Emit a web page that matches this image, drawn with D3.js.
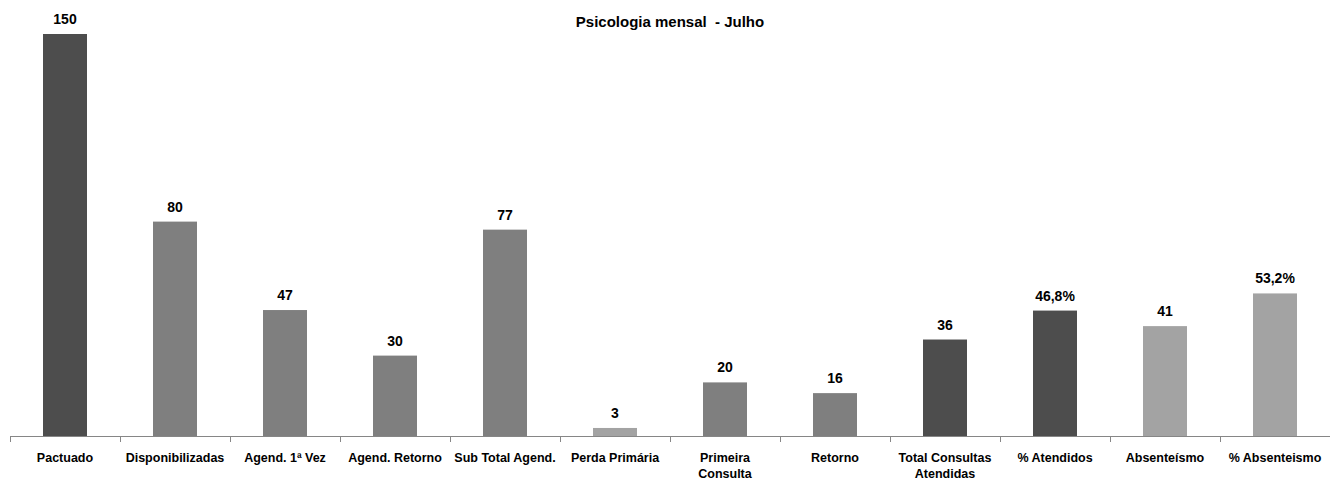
<!DOCTYPE html>
<html>
<head>
<meta charset="utf-8">
<script src="https://cdn.jsdelivr.net/npm/d3@7"></script>
<style>
  html, body { margin: 0; padding: 0; background: #fff; }
  svg { display: block; }
  text { font-family: "Liberation Sans", Arial, sans-serif; font-weight: bold; fill: #000; }
</style>
</head>
<body>
<svg id="chart" width="1330" height="481"></svg>
<script>
const categories = ["Pactuado", "Disponibilizadas", "Agend. 1ª Vez", "Agend. Retorno", "Sub Total Agend.", "Perda Primária", "Primeira Consulta", "Retorno", "Total Consultas Atendidas", "% Atendidos", "Absenteísmo", "% Absenteismo"];
const values = [150, 80, 47, 30, 77, 3, 20, 16, 36, 46.8, 41, 53.2];
const valueLabels = ["150", "80", "47", "30", "77", "3", "20", "16", "36", "46,8%", "41", "53,2%"];
const categoryLines = [["Pactuado"], ["Disponibilizadas"], ["Agend. 1ª Vez"], ["Agend. Retorno"], ["Sub Total Agend."], ["Perda Primária"], ["Primeira", "Consulta"], ["Retorno"], ["Total Consultas", "Atendidas"], ["% Atendidos"], ["Absenteísmo"], ["% Absenteismo"]];
const shades = ["dark", "mid", "mid", "mid", "mid", "light", "mid", "mid", "dark", "dark", "light", "light"];
const title = "Psicologia mensal  - Julho";

const colorOf = { dark: "#4d4d4d", mid: "#7f7f7f", light: "#a3a3a3" };

const svg = d3.select("#chart");
const x = d3.scaleBand().domain(categories).range([10, 1330]).paddingInner(0.6).paddingOuter(0.3);
const y = d3.scaleLinear().domain([0, 150]).range([436, 34]);

const data = categories.map((c, i) => ({ c, v: values[i], lab: valueLabels[i], lines: categoryLines[i], shade: shades[i] }));

svg.append("text")
  .attr("x", 670).attr("y", 27)
  .attr("text-anchor", "middle")
  .style("font-size", "15px")
  .style("white-space", "pre")
  .text(title);

svg.selectAll("rect.bar").data(data).join("rect")
  .attr("class", "bar")
  .attr("x", d => x(d.c))
  .attr("width", x.bandwidth())
  .attr("y", d => y(d.v))
  .attr("height", d => y(0) - y(d.v))
  .attr("fill", d => colorOf[d.shade]);

svg.selectAll("text.val").data(data).join("text")
  .attr("class", "val")
  .attr("x", d => x(d.c) + x.bandwidth() / 2)
  .attr("y", d => y(d.v) - 10)
  .attr("text-anchor", "middle")
  .style("font-size", "14px")
  .text(d => d.lab);

// axis
const step = x.step();
const half = (step - x.bandwidth()) / 2;
const bounds = categories.map(c => x(c) - half).concat([x(categories[categories.length - 1]) + x.bandwidth() + half]);
const ax = svg.append("g");
ax.append("line").attr("x1", x.range()[0]).attr("x2", x.range()[1])
  .attr("y1", y(0) + 0.5).attr("y2", y(0) + 0.5)
  .attr("stroke", "#868686").attr("stroke-width", 1);
ax.selectAll("line.tick").data(bounds).join("line")
  .attr("class", "tick")
  .attr("x1", d => Math.round(d) + 0.5).attr("x2", d => Math.round(d) + 0.5)
  .attr("y1", y(0)).attr("y2", y(0) + 6)
  .attr("stroke", "#868686").attr("stroke-width", 1);

const labs = svg.selectAll("text.cat").data(data).join("text")
  .attr("class", "cat")
  .attr("text-anchor", "middle")
  .style("font-size", "12.5px");
labs.selectAll("tspan").data(d => d.lines.map(l => ({ l, cx: x(d.c) + x.bandwidth() / 2 }))).join("tspan")
  .attr("x", d => d.cx)
  .attr("y", (d, i) => 462 + i * 16)
  .text(d => d.l);
</script>
</body>
</html>
